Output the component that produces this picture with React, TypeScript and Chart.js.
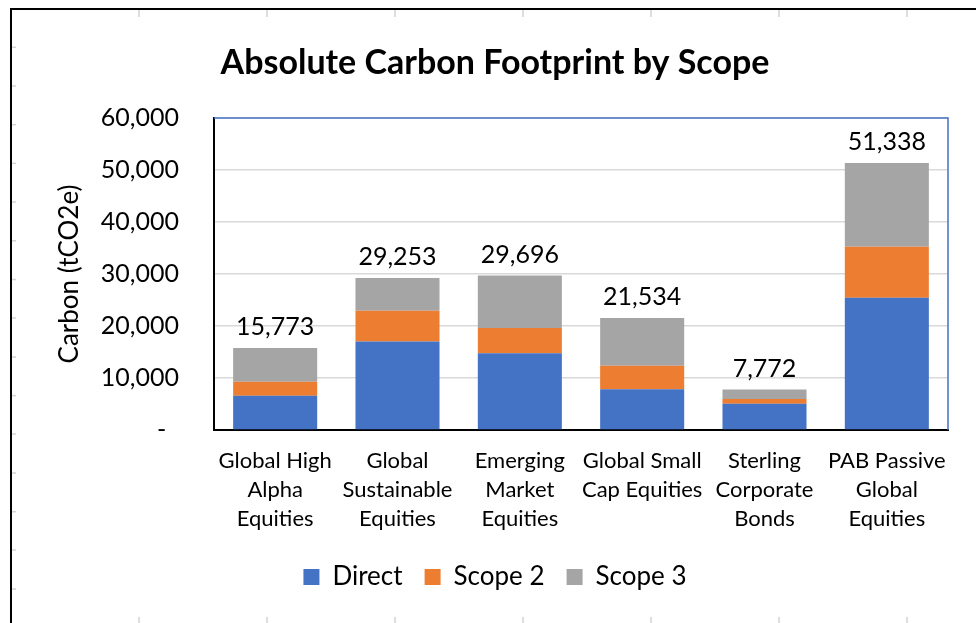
import React, { useEffect, useRef } from 'react';
import { Chart, registerables } from 'chart.js';

Chart.register(...registerables);

const categories: string[][] = [
  ['Global High', 'Alpha', 'Equities'],
  ['Global', 'Sustainable', 'Equities'],
  ['Emerging', 'Market', 'Equities'],
  ['Global Small', 'Cap Equities'],
  ['Sterling', 'Corporate', 'Bonds'],
  ['PAB Passive', 'Global', 'Equities'],
];
const seriesNames = ['Direct', 'Scope 2', 'Scope 3'];
const direct = [6600, 17000, 14750, 7820, 5060, 25450];
const scope2 = [2690, 5950, 4870, 4550, 900, 9810];
const scope3 = [6483, 6303, 10076, 9164, 1812, 16078];
const yTickValues = [0, 10000, 20000, 30000, 40000, 50000, 60000];
const titleText = 'Absolute Carbon Footprint by Scope';
const yTitle = 'Carbon (tCO2e)';

const colors = ['#4472C4', '#ED7D31', '#A5A5A5'];
const FONT = 'Lato';

// Excel sheet gridline stubs visible around the chart object (decoration)
const rowStubs = [47.3, 86, 124.7, 163.4, 202, 240.8, 279.5, 318, 357, 395.6, 434, 473, 511.7, 550, 589];
const colStubs = [139, 267, 395, 523, 651, 779, 907];

const framePlugin = {
  id: 'frame',
  beforeDraw(chart: any) {
    const ctx = chart.ctx;
    ctx.save();
    ctx.fillStyle = '#ffffff';
    ctx.fillRect(0, 0, chart.width, chart.height);
    ctx.fillStyle = '#d4d4d4';
    rowStubs.forEach((y) => ctx.fillRect(12, y - 0.75, 4, 1.5));
    colStubs.forEach((x) => {
      ctx.fillRect(x - 0.75, 10, 1.5, 7);
      ctx.fillRect(x - 0.75, 617, 1.5, 6);
    });
    ctx.fillStyle = '#000000';
    ctx.fillRect(10, 8, chart.width - 10, 2);
    ctx.fillRect(10, 8, 2, chart.height - 8);
    ctx.restore();
  },
};

const plotBorderPlugin = {
  id: 'plotBorder',
  beforeDatasetsDraw(chart: any) {
    const { ctx, chartArea } = chart;
    ctx.save();
    ctx.strokeStyle = '#4472C4';
    ctx.lineWidth = 1.5;
    ctx.beginPath();
    ctx.moveTo(chartArea.left, chartArea.top);
    ctx.lineTo(chartArea.right, chartArea.top);
    ctx.lineTo(chartArea.right, chartArea.bottom);
    ctx.stroke();
    ctx.restore();
  },
};

const totalsPlugin = {
  id: 'totals',
  afterDatasetsDraw(chart: any) {
    const ctx = chart.ctx;
    const meta = chart.getDatasetMeta(2);
    ctx.save();
    ctx.font = `25px ${FONT}`;
    ctx.fillStyle = '#000000';
    ctx.textAlign = 'center';
    ctx.textBaseline = 'alphabetic';
    meta.data.forEach((el: any, i: number) => {
      const total = direct[i] + scope2[i] + scope3[i];
      ctx.fillText(total.toLocaleString('en-US'), el.x, el.y - 13);
    });
    ctx.restore();
  },
};

export default function App() {
  const canvasRef = useRef<HTMLCanvasElement | null>(null);

  useEffect(() => {
    if (!canvasRef.current) return;
    const chart = new Chart(canvasRef.current, {
      type: 'bar',
      data: {
        labels: categories,
        datasets: [direct, scope2, scope3].map((d, i) => ({
          label: seriesNames[i],
          data: d,
          backgroundColor: colors[i],
          borderWidth: 0,
          categoryPercentage: 1,
          barPercentage: 0.687,
        })),
      },
      options: {
        animation: false,
        responsive: false,
        devicePixelRatio: 1,
        layout: { padding: { left: 14, right: 0, top: 10, bottom: 23 } },
        plugins: {
          title: {
            display: true,
            text: titleText,
            color: '#000000',
            font: { family: FONT, size: 34, weight: 'bold', lineHeight: 1.2 },
            padding: { top: 32.4, bottom: 34.8 },
          },
          legend: {
            position: 'bottom',
            labels: {
              color: '#000000',
              font: { family: FONT, size: 26 },
              boxWidth: 16,
              boxHeight: 16,
              padding: 22,
            },
          },
          tooltip: { enabled: false },
        },
        scales: {
          x: {
            stacked: true,
            grid: { display: false, drawTicks: false },
            border: { color: '#000000', width: 2 },
            ticks: {
              color: '#000000',
              font: { family: FONT, size: 22, lineHeight: 1.32 },
              padding: 16,
              maxRotation: 0,
              autoSkip: false,
            },
            afterFit: (s: any) => {
              s.height = 112;
            },
          },
          y: {
            stacked: true,
            min: 0,
            max: 60000,
            afterBuildTicks: (s: any) => {
              s.ticks = yTickValues.map((v) => ({ value: v }));
            },
            ticks: {
              color: '#000000',
              font: { family: FONT, size: 25 },
              padding: 35,
              callback: (v: any) => (Number(v) === 0 ? '-  ' : Number(v).toLocaleString('en-US')),
            },
            grid: { color: '#d9d9d9', lineWidth: 1.5, drawTicks: false },
            border: { color: '#000000', width: 2 },
            title: {
              display: true,
              text: yTitle,
              color: '#000000',
              font: { family: FONT, size: 26, lineHeight: 1.2 },
              padding: { top: 40.4, bottom: 0 },
            },
            afterFit: (s: any) => {
              s.width = 200;
            },
          },
          y2: {
            position: 'right',
            display: true,
            grid: { display: false, drawTicks: false },
            border: { display: false },
            ticks: { display: false },
            afterFit: (s: any) => {
              s.width = 28;
            },
          },
        },
      } as any,
      plugins: [framePlugin, plotBorderPlugin, totalsPlugin],
    });
    return () => chart.destroy();
  }, []);

  return (
    <div style={{ position: 'fixed', left: 0, top: 0, width: 976, height: 623, background: '#fff' }}>
      <canvas ref={canvasRef} width={976} height={623} style={{ display: 'block', width: 976, height: 623 }} />
    </div>
  );
}
